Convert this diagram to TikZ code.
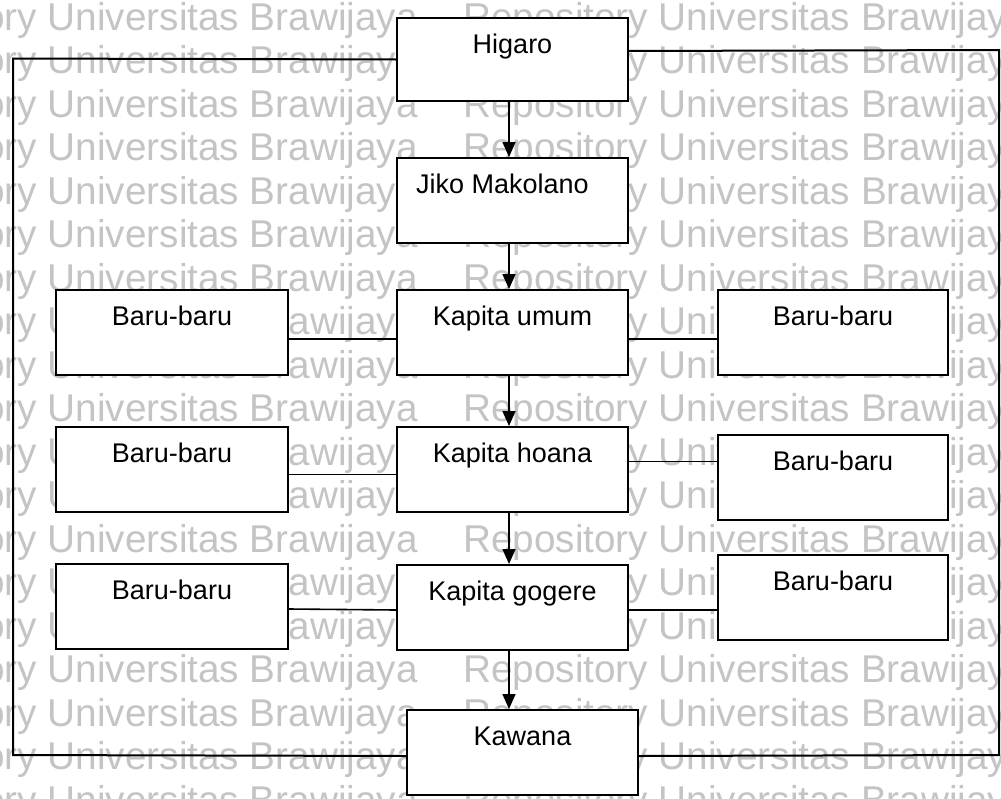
\documentclass[tikz,border=0pt]{standalone}
\usepackage{fontspec}
\setmainfont{Liberation Sans}
\usetikzlibrary{arrows.meta}
\definecolor{wmgray}{gray}{0.77}
\begin{document}
\begin{tikzpicture}[x=1pt,y=-1pt,
  box/.style={draw, line width=2pt, fill=white, minimum width=231pt,
    inner xsep=0pt, inner ysep=0pt, text height=35pt, text depth=50pt,
    font=\fontsize{27}{30}\selectfont, anchor=north west},
  link/.style={line width=1.6pt},
  flow/.style={line width=1.6pt, -{Triangle[length=15pt,width=13pt]}},
  outline/.style={line width=2pt},
  wmtext/.style={text=wmgray, inner sep=0pt, anchor=base west,
    font=\fontsize{38.7}{40}\selectfont}]
\useasboundingbox (0,0) rectangle (1001,798);
\fill[white] (0,0) rectangle (1001,798);

% background lettering
\begin{scope}
  \clip (0,0) rectangle (1001,798);
  \foreach \k in {0,...,18}
    \foreach \r/\c in {-148/a,463/b}
      \node[wmtext] (wm\k\c) at (\r,{30+43.5*\k}) {Repository Universitas Brawijaya};
\end{scope}

% frame corners
\coordinate (fnw) at (13,58.5);
\coordinate (fsw) at (13,755);
\coordinate (fne) at (999,50);
\coordinate (fse) at (999,755);

% centre column
\node[box, text depth=48pt] (higaro) at (396,17) {Higaro};
\node[box] (jiko)   at (396,157) {\hspace*{-20pt}Jiko Makolano};
\node[box] (umum)   at (396,289) {Kapita umum};
\node[box] (hoana)  at (396,426) {Kapita hoana};
\node[box] (gogere) at (396,564) {Kapita gogere};
\node[box] (kawana) at (406,709) {Kawana};

% side boxes
\node[box, minimum width=232pt] (l1) at (55,289) {Baru-baru};
\node[box, minimum width=232pt] (l2) at (55,426) {Baru-baru};
\node[box, minimum width=232pt] (l3) at (55,563) {Baru-baru};
\node[box, minimum width=230pt] (r1) at (717,289) {Baru-baru};
\node[box, minimum width=230pt] (r2) at (717,434) {Baru-baru};
\node[box, minimum width=230pt] (r3) at (717,554) {Baru-baru};

% outer loop from Higaro back to Kawana
\draw[outline] (higaro.west) -- (fnw) -- (fsw) -- ([yshift=-3.5pt]kawana.west);
\draw[outline] ([yshift=8.5pt]higaro.east) -- (fne) -- (fse) -- ([yshift=-3.5pt]kawana.east);

% main flow
\draw[flow] ([xshift=-3.5pt]higaro.south) -- ([xshift=-3.5pt]jiko.north);
\draw[flow] ([xshift=-3.5pt]jiko.south) -- ([xshift=-3.5pt]umum.north);
\draw[flow] ([xshift=-3.5pt]umum.south) -- ([xshift=-3.5pt]hoana.north);
\draw[flow] ([xshift=-3.5pt]hoana.south) -- ([xshift=-3.5pt]gogere.north);
\draw[flow] ([xshift=-3.5pt]gogere.south) -- ([xshift=-3.5pt]gogere.south |- kawana.north);

% side links
\draw[link] ([yshift=-6.5pt]l1.east) -- ([yshift=-6.5pt]umum.west);
\draw[link] ([yshift=-6.5pt]umum.east) -- ([yshift=-6.5pt]r1.west);
\draw[link] ([yshift=-5pt]l2.east) -- ([yshift=-5pt]hoana.west);
\draw[link] ([yshift=8pt]hoana.east) coordinate (hoanaout) -- (hoanaout -| r2.west);
\draw[link] ([yshift=-2.5pt]l3.east) -- ([yshift=-2.5pt]gogere.west);
\draw[link] ([yshift=-2.5pt]gogere.east) coordinate (gogereout) -- (gogereout -| r3.west);
\end{tikzpicture}
\end{document}
